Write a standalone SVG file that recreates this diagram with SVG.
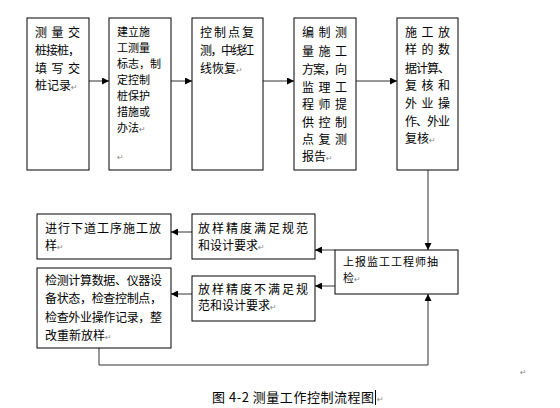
<svg xmlns="http://www.w3.org/2000/svg" width="560" height="408" viewBox="0 0 560 408">
<style>
.box{fill:#fff;stroke:#000;stroke-width:1}
.t{font-family:"Noto Sans CJK SC","Liberation Sans",sans-serif;font-size:12px;fill:#000}
.s{font-size:11px}
.cap{font-family:"Noto Sans CJK SC","Liberation Sans",sans-serif;font-size:13px;fill:#000}
.pm{font-family:"DejaVu Sans",sans-serif;font-size:8px;fill:#888}
.ln{fill:none;stroke:#333;stroke-width:1}
</style>
<defs>
<marker id="ah" markerUnits="userSpaceOnUse" markerWidth="7" markerHeight="7" refX="7" refY="3.5" orient="auto">
<path d="M0,0 L7,3.5 L0,7 z" fill="#000"/>
</marker>
</defs>
<rect width="560" height="408" fill="#fff"/>

<g id="connectors">
<line class="ln" x1="89" y1="81" x2="109" y2="81" marker-end="url(#ah)"/>
<line class="ln" x1="171" y1="81" x2="192" y2="81" marker-end="url(#ah)"/>
<line class="ln" x1="263" y1="81" x2="294" y2="81" marker-end="url(#ah)"/>
<line class="ln" x1="356" y1="81" x2="397" y2="81" marker-end="url(#ah)"/>
<line class="ln" x1="428" y1="170" x2="428" y2="250" marker-end="url(#ah)"/>
<line class="ln" x1="335" y1="250" x2="315" y2="250" marker-end="url(#ah)"/>
<line class="ln" x1="335" y1="286" x2="315" y2="286" marker-end="url(#ah)"/>
<line class="ln" x1="192" y1="232" x2="171" y2="232" marker-end="url(#ah)"/>
<line class="ln" x1="192" y1="294" x2="171" y2="294" marker-end="url(#ah)"/>
<polyline class="ln" points="99,348 99,365 428,365 428,294" marker-end="url(#ah)"/>
</g>

<g id="n1">
<rect class="box" x="27" y="18" width="62" height="152"/>
<text class="t" x="35" y="37" textLength="45" lengthAdjust="spacing">测量交</text>
<text class="t" x="35" y="55" textLength="45" lengthAdjust="spacing">桩接桩，</text>
<text class="t" x="35" y="73" textLength="45" lengthAdjust="spacing">填写交</text>
<text class="t" x="35" y="90">桩记录<tspan class="pm">↵</tspan></text>
</g>

<g id="n2">
<rect class="box" x="109" y="18" width="62" height="152"/>
<text class="t s" x="117" y="36">建立施</text>
<text class="t s" x="117" y="52">工测量</text>
<text class="t s" x="117" y="68" textLength="44" lengthAdjust="spacing">标志，制</text>
<text class="t s" x="117" y="84">定控制</text>
<text class="t s" x="117" y="100">桩保护</text>
<text class="t s" x="117" y="116">措施或</text>
<text class="t s" x="117" y="132">办法<tspan class="pm">↵</tspan></text>
<text class="pm" x="117" y="160">↵</text>
</g>

<g id="n3">
<rect class="box" x="192" y="18" width="71" height="152"/>
<text class="t" x="200" y="37" textLength="54" lengthAdjust="spacing">控制点复</text>
<text class="t" x="200" y="55" textLength="54" lengthAdjust="spacing">测，中线红</text>
<text class="t" x="200" y="73">线恢复<tspan class="pm">↵</tspan></text>
</g>

<g id="n4">
<rect class="box" x="294" y="18" width="62" height="152"/>
<text class="t" x="302" y="37" textLength="45" lengthAdjust="spacing">编制测</text>
<text class="t" x="302" y="56" textLength="45" lengthAdjust="spacing">量施工</text>
<text class="t" x="302" y="74" textLength="45" lengthAdjust="spacing">方案，向</text>
<text class="t" x="302" y="92" textLength="45" lengthAdjust="spacing">监理工</text>
<text class="t" x="302" y="109" textLength="45" lengthAdjust="spacing">程师提</text>
<text class="t" x="302" y="127" textLength="45" lengthAdjust="spacing">供控制</text>
<text class="t" x="302" y="144" textLength="45" lengthAdjust="spacing">点复测</text>
<text class="t" x="302" y="161">报告<tspan class="pm">↵</tspan></text>
</g>

<g id="n5">
<rect class="box" x="397" y="18" width="61" height="152"/>
<text class="t" x="405" y="37" textLength="45" lengthAdjust="spacing">施工放</text>
<text class="t" x="405" y="54" textLength="45" lengthAdjust="spacing">样的数</text>
<text class="t" x="405" y="73" textLength="45" lengthAdjust="spacing">据计算、</text>
<text class="t" x="405" y="90" textLength="45" lengthAdjust="spacing">复核和</text>
<text class="t" x="405" y="108" textLength="45" lengthAdjust="spacing">外业操</text>
<text class="t" x="405" y="126" textLength="45" lengthAdjust="spacing">作、外业</text>
<text class="t" x="405" y="143">复核<tspan class="pm">↵</tspan></text>
</g>

<g id="n6">
<rect class="box" x="335" y="250" width="123" height="44"/>
<text class="t s" x="343" y="266" textLength="95" lengthAdjust="spacing">上报监工工程师抽</text>
<text class="t s" x="343" y="282">检<tspan class="pm">↵</tspan></text>
</g>

<g id="n7">
<rect class="box" x="192" y="214" width="123" height="45"/>
<text class="t" x="198" y="233" textLength="110" lengthAdjust="spacing">放样精度满足规范</text>
<text class="t" x="198" y="250">和设计要求<tspan class="pm">↵</tspan></text>
</g>

<g id="n8">
<rect class="box" x="192" y="276" width="123" height="45"/>
<text class="t" x="198" y="294" textLength="110" lengthAdjust="spacing">放样精度不满足规</text>
<text class="t" x="198" y="310">范和设计要求<tspan class="pm">↵</tspan></text>
</g>

<g id="n9">
<rect class="box" x="37" y="214" width="134" height="45"/>
<text class="t" x="45" y="233" textLength="116" lengthAdjust="spacing">进行下道工序施工放</text>
<text class="t" x="45" y="250">样<tspan class="pm">↵</tspan></text>
</g>

<g id="n10">
<rect class="box" x="37" y="268" width="134" height="80"/>
<text class="t" x="45" y="285" textLength="117" lengthAdjust="spacing">检测计算数据、仪器设</text>
<text class="t" x="45" y="303" textLength="117" lengthAdjust="spacing">备状态，检查控制点，</text>
<text class="t" x="45" y="322" textLength="117" lengthAdjust="spacing">检查外业操作记录，整</text>
<text class="t" x="45" y="340">改重新放样<tspan class="pm">↵</tspan></text>
</g>

<g id="caption">
<text class="cap" x="212" y="402" textLength="162" lengthAdjust="spacing">图 4-2 测量工作控制流程图</text>
<line x1="375.5" y1="390" x2="375.5" y2="405" stroke="#000" stroke-width="1"/>
<text class="pm" x="377" y="402">↵</text>
<text class="pm" x="520" y="375">↵</text>
</g>
</svg>
